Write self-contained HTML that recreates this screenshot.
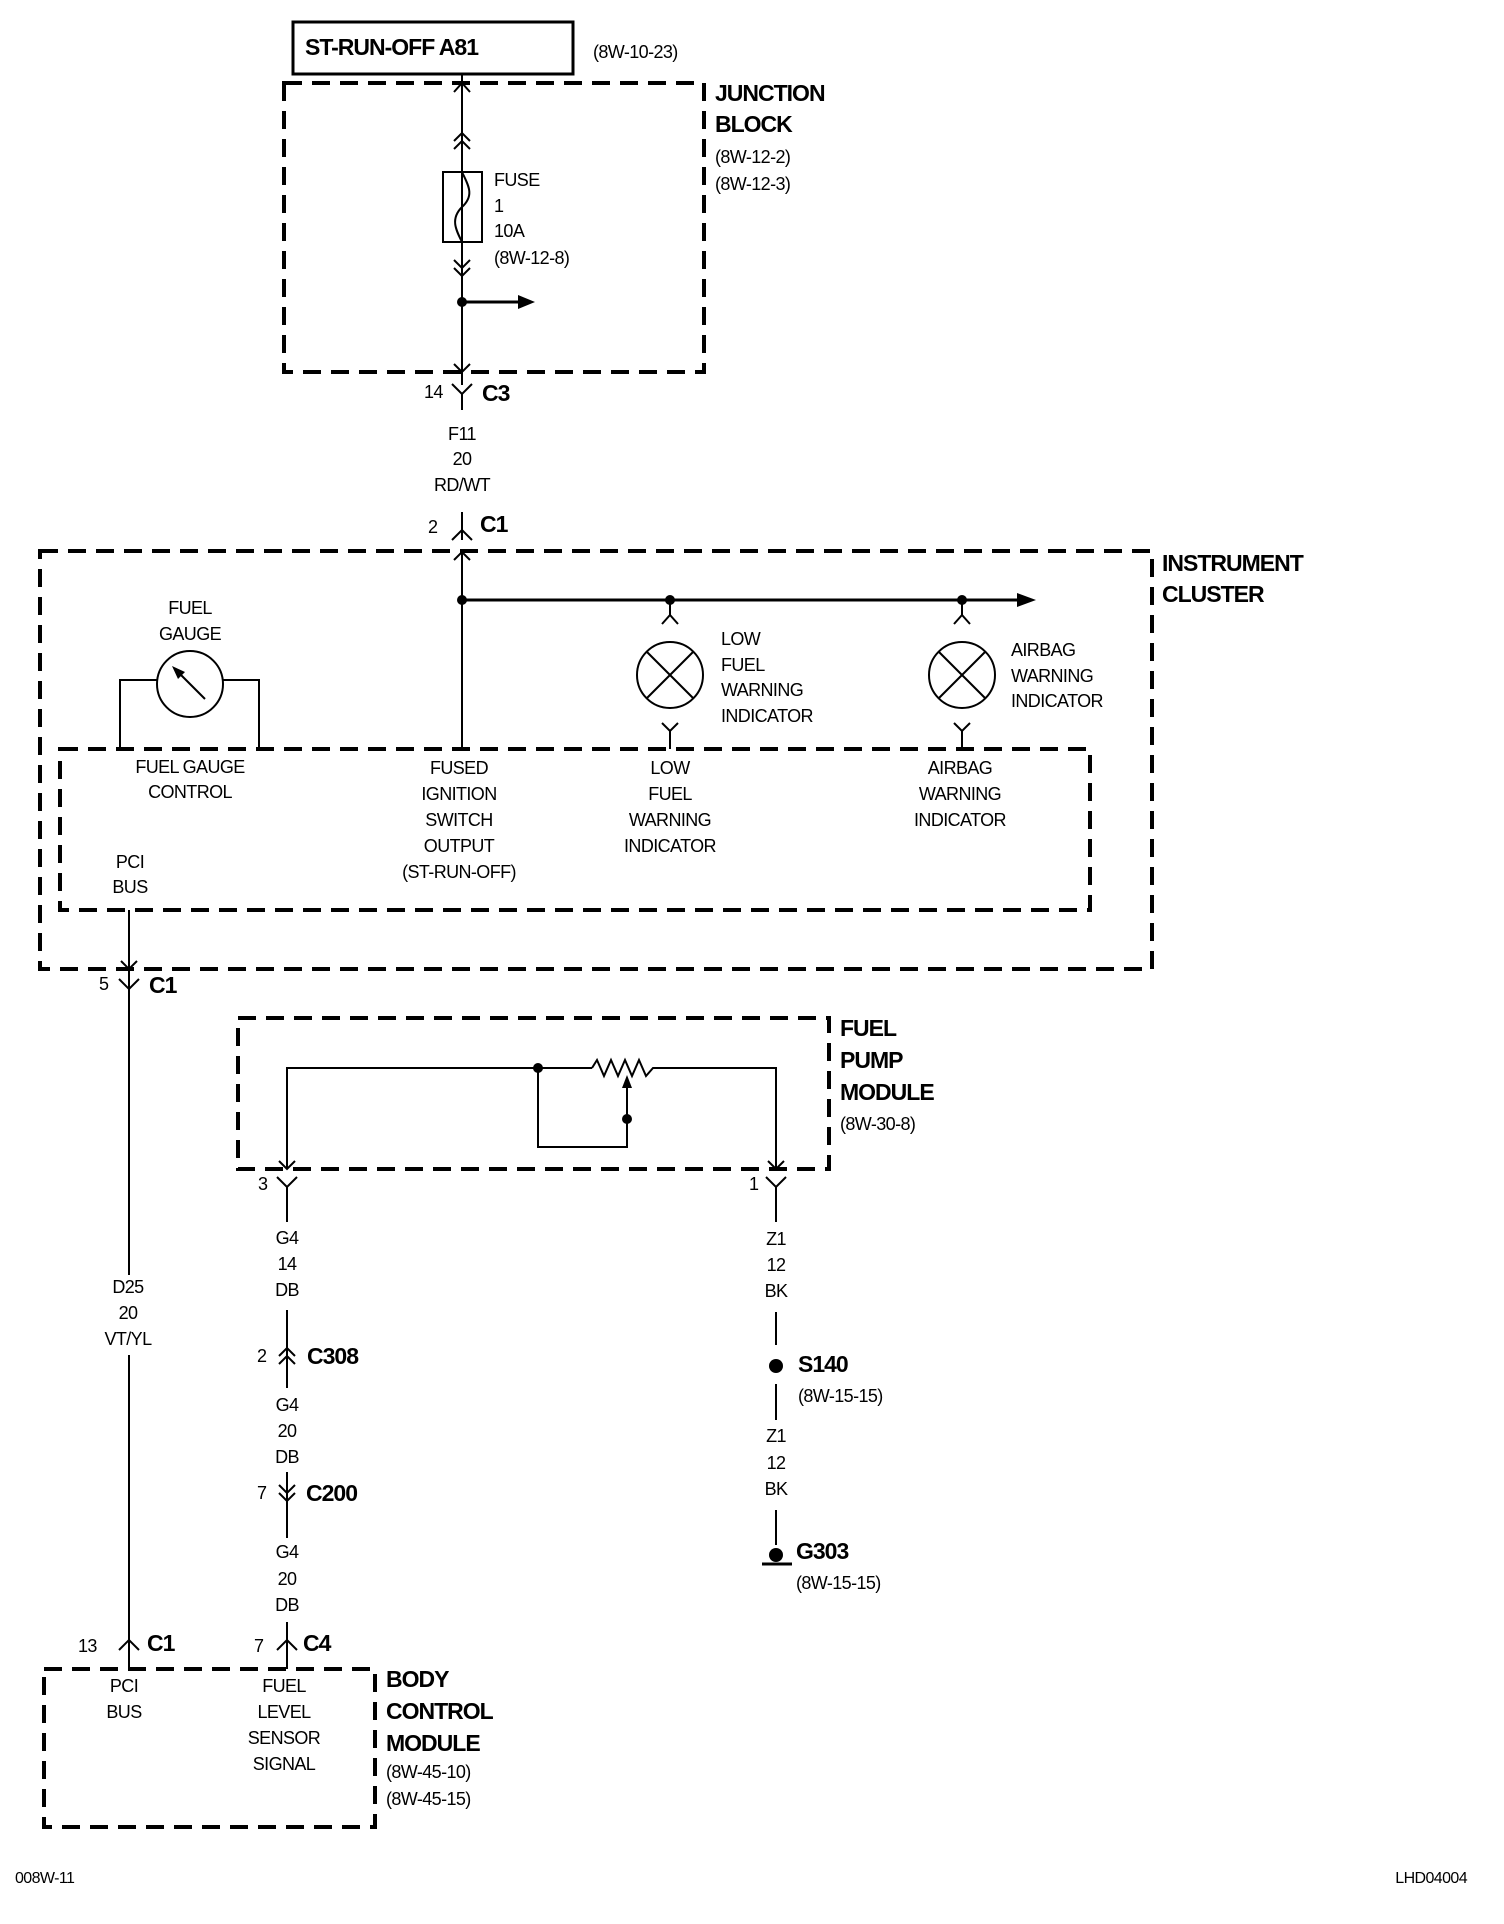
<!DOCTYPE html>
<html><head><meta charset="utf-8"><style>
html,body{margin:0;padding:0;background:#fff;}
svg{display:block;}
text{font-family:"Liberation Sans Narrow","Liberation Sans",sans-serif;fill:#000;letter-spacing:-0.6px;}
.t{font-size:18px;text-anchor:middle;dominant-baseline:middle;}
.l{font-size:18px;dominant-baseline:middle;}
.b{font-size:23px;font-weight:bold;dominant-baseline:middle;letter-spacing:-1px;}
.d{fill:none;stroke:#000;stroke-width:4;stroke-dasharray:18 10;}
.w{fill:none;stroke:#000;stroke-width:2;}
</style></head><body>
<svg width="1504" height="1924" viewBox="0 0 1504 1924" xmlns="http://www.w3.org/2000/svg">
<rect x="293" y="22" width="280" height="52" fill="none" stroke="#000" stroke-width="3"/>
<text class="b" x="305" y="49">ST-RUN-OFF A81</text>
<text class="l" x="593" y="53">(8W-10-23)</text>
<rect class="d" x="284" y="83" width="420" height="289"/>
<text class="b" x="715" y="95">JUNCTION</text>
<text class="b" x="715" y="126">BLOCK</text>
<text class="l" x="715" y="158">(8W-12-2)</text>
<text class="l" x="715" y="185">(8W-12-3)</text>
<line class="w" x1="462" y1="75" x2="462" y2="385"/>
<polyline class="w" points="454,92 462,83 470,92"/>
<polyline class="w" points="454,141 462,133 470,141"/>
<polyline class="w" points="454,149 462,141 470,149"/>
<rect x="443" y="172" width="39" height="70" fill="none" stroke="#000" stroke-width="2"/>
<path class="w" d="M462,172 C468,185 475,195 462,207 C450,219 456,230 462,242" fill="#fff"/>
<text class="l" x="494" y="181">FUSE</text>
<text class="l" x="494" y="207">1</text>
<text class="l" x="494" y="232">10A</text>
<text class="l" x="494" y="259">(8W-12-8)</text>
<polyline class="w" points="454,260 462,268 470,260"/>
<polyline class="w" points="454,268 462,276 470,268"/>
<circle cx="462" cy="302" r="5"/>
<line x1="462" y1="302" x2="520" y2="302" stroke="#000" stroke-width="3"/>
<polygon points="518,295 535,302 518,309"/>
<polyline class="w" points="454,364 462,372 470,364"/>
<polyline class="w" points="452,384 462,394 472,384"/>
<line class="w" x1="462" y1="394" x2="462" y2="410"/>
<text class="l" x="424" y="393">14</text>
<text class="b" x="482" y="395">C3</text>
<text class="t" x="462" y="435">F11</text>
<text class="t" x="462" y="460">20</text>
<text class="t" x="462" y="486">RD/WT</text>
<line class="w" x1="462" y1="512" x2="462" y2="540"/>
<polyline class="w" points="452,540 462,530 472,540"/>
<text class="l" x="428" y="528">2</text>
<text class="b" x="480" y="526">C1</text>
<rect class="d" x="40" y="551" width="1112" height="418"/>
<text class="b" x="1162" y="565">INSTRUMENT</text>
<text class="b" x="1162" y="596">CLUSTER</text>
<polyline class="w" points="454,560 462,552 470,560"/>
<line class="w" x1="462" y1="552" x2="462" y2="749"/>
<line x1="462" y1="600" x2="1020" y2="600" stroke="#000" stroke-width="3"/>
<polygon points="1017,593 1036,600 1017,607"/>
<circle cx="462" cy="600" r="5"/>
<circle cx="670" cy="600" r="5"/>
<circle cx="962" cy="600" r="5"/>
<g>
<line class="w" x1="670" y1="600" x2="670" y2="615"/>
<polyline class="w" points="662,624 670,615 678,624"/>
<circle cx="670" cy="675" r="33" fill="none" stroke="#000" stroke-width="2"/>
<line class="w" x1="647" y1="652" x2="693" y2="698"/><line class="w" x1="693" y1="652" x2="647" y2="698"/>
<polyline class="w" points="662,723 670,731 678,723"/>
<line class="w" x1="670" y1="731" x2="670" y2="749"/>
</g>
<g>
<line class="w" x1="962" y1="600" x2="962" y2="615"/>
<polyline class="w" points="954,624 962,615 970,624"/>
<circle cx="962" cy="675" r="33" fill="none" stroke="#000" stroke-width="2"/>
<line class="w" x1="939" y1="652" x2="985" y2="698"/><line class="w" x1="985" y1="652" x2="939" y2="698"/>
<polyline class="w" points="954,723 962,731 970,723"/>
<line class="w" x1="962" y1="731" x2="962" y2="749"/>
</g>
<text class="l" x="721" y="640">LOW</text>
<text class="l" x="721" y="666">FUEL</text>
<text class="l" x="721" y="691">WARNING</text>
<text class="l" x="721" y="717">INDICATOR</text>
<text class="l" x="1011" y="651">AIRBAG</text>
<text class="l" x="1011" y="677">WARNING</text>
<text class="l" x="1011" y="702">INDICATOR</text>
<text class="t" x="190" y="609">FUEL</text>
<text class="t" x="190" y="635">GAUGE</text>
<circle cx="190" cy="684" r="33" fill="none" stroke="#000" stroke-width="2"/>
<line class="w" x1="205" y1="699" x2="177" y2="671"/>
<polygon points="172,666 185,672 178,679"/>
<polyline class="w" points="157,680 120,680 120,749"/>
<polyline class="w" points="223,680 259,680 259,749"/>
<rect class="d" x="60" y="749" width="1030" height="161"/>
<text class="t" x="190" y="768">FUEL GAUGE</text>
<text class="t" x="190" y="793">CONTROL</text>
<text class="t" x="459" y="769">FUSED</text>
<text class="t" x="459" y="795">IGNITION</text>
<text class="t" x="459" y="821">SWITCH</text>
<text class="t" x="459" y="847">OUTPUT</text>
<text class="t" x="459" y="873">(ST-RUN-OFF)</text>
<text class="t" x="670" y="769">LOW</text>
<text class="t" x="670" y="795">FUEL</text>
<text class="t" x="670" y="821">WARNING</text>
<text class="t" x="670" y="847">INDICATOR</text>
<text class="t" x="960" y="769">AIRBAG</text>
<text class="t" x="960" y="795">WARNING</text>
<text class="t" x="960" y="821">INDICATOR</text>
<text class="t" x="130" y="863">PCI</text>
<text class="t" x="130" y="888">BUS</text>
<line class="w" x1="129" y1="910" x2="129" y2="1669"/>
<polyline class="w" points="121,961 129,969 137,961"/>
<polyline class="w" points="119,979 129,989 139,979"/>
<text class="l" x="99" y="985">5</text>
<text class="b" x="149" y="987">C1</text>
<rect x="100" y="1275" width="58" height="80" fill="#fff"/>
<text class="t" x="128" y="1288">D25</text>
<text class="t" x="128" y="1314">20</text>
<text class="t" x="128" y="1340">VT/YL</text>
<rect class="d" x="238" y="1018" width="591" height="151"/>
<text class="b" x="840" y="1030">FUEL</text>
<text class="b" x="840" y="1062">PUMP</text>
<text class="b" x="840" y="1094">MODULE</text>
<text class="l" x="840" y="1125">(8W-30-8)</text>
<polyline class="w" points="287,1169 287,1068 592,1068"/>
<polyline class="w" points="592,1068 597,1060 604,1076 611,1060 618,1076 625,1060 632,1076 639,1060 646,1076 653,1068 776,1068 776,1169"/>
<circle cx="538" cy="1068" r="5"/>
<polyline class="w" points="538,1068 538,1147 627,1147 627,1084"/>
<polygon points="622,1088 627,1075 632,1088"/>
<circle cx="627" cy="1119" r="5"/>
<polyline class="w" points="279,1161 287,1169 295,1161"/>
<polyline class="w" points="768,1161 776,1169 784,1161"/>
<polyline class="w" points="277,1177 287,1187 297,1177"/>
<polyline class="w" points="766,1177 776,1187 786,1177"/>
<text class="l" x="258" y="1185">3</text>
<text class="l" x="749" y="1185">1</text>
<line class="w" x1="287" y1="1187" x2="287" y2="1222"/>
<line class="w" x1="776" y1="1187" x2="776" y2="1222"/>
<text class="t" x="287" y="1239">G4</text>
<text class="t" x="287" y="1265">14</text>
<text class="t" x="287" y="1291">DB</text>
<line class="w" x1="287" y1="1310" x2="287" y2="1388"/>
<polyline class="w" points="279,1356 287,1348 295,1356"/>
<polyline class="w" points="279,1364 287,1356 295,1364"/>
<text class="l" x="257" y="1357">2</text>
<text class="b" x="307" y="1358">C308</text>
<text class="t" x="287" y="1406">G4</text>
<text class="t" x="287" y="1432">20</text>
<text class="t" x="287" y="1458">DB</text>
<line class="w" x1="287" y1="1472" x2="287" y2="1538"/>
<polyline class="w" points="279,1485 287,1493 295,1485"/>
<polyline class="w" points="279,1493 287,1501 295,1493"/>
<text class="l" x="257" y="1494">7</text>
<text class="b" x="306" y="1495">C200</text>
<text class="t" x="287" y="1553">G4</text>
<text class="t" x="287" y="1580">20</text>
<text class="t" x="287" y="1606">DB</text>
<line class="w" x1="287" y1="1622" x2="287" y2="1669"/>
<polyline class="w" points="277,1650 287,1640 297,1650"/>
<text class="l" x="254" y="1647">7</text>
<text class="b" x="303" y="1645">C4</text>
<polyline class="w" points="119,1650 129,1640 139,1650"/>
<text class="l" x="78" y="1647">13</text>
<text class="b" x="147" y="1645">C1</text>
<text class="t" x="776" y="1240">Z1</text>
<text class="t" x="776" y="1266">12</text>
<text class="t" x="776" y="1292">BK</text>
<line class="w" x1="776" y1="1312" x2="776" y2="1345"/>
<circle cx="776" cy="1366" r="7"/>
<text class="b" x="798" y="1366">S140</text>
<text class="l" x="798" y="1397">(8W-15-15)</text>
<line class="w" x1="776" y1="1384" x2="776" y2="1420"/>
<text class="t" x="776" y="1437">Z1</text>
<text class="t" x="776" y="1464">12</text>
<text class="t" x="776" y="1490">BK</text>
<line class="w" x1="776" y1="1510" x2="776" y2="1545"/>
<circle cx="776" cy="1555" r="7"/>
<line x1="762" y1="1564" x2="792" y2="1564" stroke="#000" stroke-width="3"/>
<text class="b" x="796" y="1553">G303</text>
<text class="l" x="796" y="1584">(8W-15-15)</text>
<rect class="d" x="44" y="1669" width="331" height="158"/>
<text class="t" x="124" y="1687">PCI</text>
<text class="t" x="124" y="1713">BUS</text>
<text class="t" x="284" y="1687">FUEL</text>
<text class="t" x="284" y="1713">LEVEL</text>
<text class="t" x="284" y="1739">SENSOR</text>
<text class="t" x="284" y="1765">SIGNAL</text>
<text class="b" x="386" y="1681">BODY</text>
<text class="b" x="386" y="1713">CONTROL</text>
<text class="b" x="386" y="1745">MODULE</text>
<text class="l" x="386" y="1773">(8W-45-10)</text>
<text class="l" x="386" y="1800">(8W-45-15)</text>
<text class="l" x="15" y="1879" style="font-size:16px">008W-11</text>
<text class="l" x="1467" y="1879" style="font-size:16px;text-anchor:end">LHD04004</text>
</svg>
</body></html>
